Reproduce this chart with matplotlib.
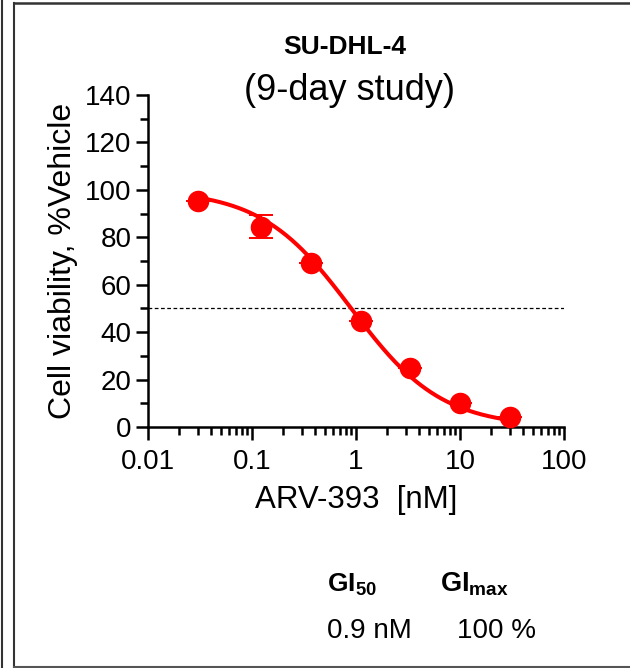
import numpy as np
import matplotlib
matplotlib.use('Agg')
import matplotlib.pyplot as plt
from matplotlib.lines import Line2D
from matplotlib.ticker import MultipleLocator, LogLocator, FixedLocator

plt.rcParams['font.family'] = ['Liberation Sans', 'DejaVu Sans']
plt.rcParams['mathtext.fontset'] = 'custom'
plt.rcParams['mathtext.rm'] = 'Liberation Sans'
plt.rcParams['mathtext.bf'] = 'Liberation Sans:bold'

# data
conc = [0.03, 0.123, 0.37, 1.11, 3.33, 10, 30]
viability = [95.5, 84.5, 69.0, 44.5, 25.0, 10.0, 4.3]
err = [0, 5.0, 0, 0, 0, 0, 0]

# 4-parameter logistic fit values
top, bottom, gi50, hill = 100.0, 0.0, 0.9, 1.0

x_ticks = [0.01, 0.1, 1, 10, 100]
x_labels = ['0.01', '0.1', '1', '10', '100']
y_ticks = [0, 20, 40, 60, 80, 100, 120, 140]

red = '#ff0000'

fig = plt.figure(figsize=(6.3, 6.68), dpi=100)
ax = fig.add_axes([148/630, 1-427/668, (564-148)/630, (427-95)/668])

xs = np.logspace(np.log10(conc[0]), np.log10(conc[-1]), 300)
fit = bottom + (top - bottom) / (1 + (xs / gi50) ** hill)
ax.plot(xs, fit, color=red, lw=2.9, zorder=3)
ax.errorbar(conc, viability, yerr=err, fmt='o', color=red, ms=14.5,
            elinewidth=1.4, capsize=8.5, capthick=1.4, zorder=4, clip_on=False)
ax.axhline(50, color='black', lw=0.9, ls=(0, (3, 2)), zorder=2)

ax.set_xscale('log')
ax.set_xlim(0.01, 100)
ax.set_ylim(0, 140)
ax.xaxis.set_major_locator(FixedLocator(x_ticks))
ax.set_xticklabels(x_labels)
ax.xaxis.set_minor_locator(LogLocator(base=10, subs=np.arange(2, 10)))
ax.xaxis.set_minor_formatter(plt.NullFormatter())
ax.set_yticks(y_ticks)
ax.yaxis.set_minor_locator(MultipleLocator(10))

for s in ['top', 'right']:
    ax.spines[s].set_visible(False)
for s in ['left', 'bottom']:
    ax.spines[s].set_linewidth(1.8)
ax.tick_params(which='major', length=9, width=1.8, labelsize=20, pad=3)
ax.tick_params(axis='x', which='major', pad=7)
ax.tick_params(which='minor', length=6, width=1.8)

ax.set_xlabel('ARV-393  [nM]', fontsize=22.5, labelpad=7)
ax.set_ylabel('Cell viability, %Vehicle', fontsize=23, labelpad=5)

fig.text(345/630, 1-47/668, 'SU-DHL-4', fontsize=19, fontweight='bold',
         ha='center', va='center')
fig.text(350/630, 1-91/668, '(9-day study)', fontsize=26,
         ha='center', va='center')

fig.text(327/630, 1-591/668, r'$\mathbf{GI}_{\mathbf{50}}$', fontsize=19,
         ha='left', va='baseline')
fig.text(440/630, 1-591/668, r'$\mathbf{GI}_{\mathbf{max}}$', fontsize=19.5,
         ha='left', va='baseline')
fig.text(327/630, 1-638/668, '0.9 nM', fontsize=20, ha='left', va='baseline')
fig.text(457/630, 1-638/668, '100 %', fontsize=20, ha='left', va='baseline')

# panel frame
fig.add_artist(Line2D([14/630, 14/630], [0.5/668, 1-3/668], color='#333333', lw=1.5))
fig.add_artist(Line2D([2/630, 2/630], [0, 1], color='#333333', lw=1.5))
fig.add_artist(Line2D([14/630, 1], [1-3/668, 1-3/668], color='#333333', lw=1.8))
fig.add_artist(Line2D([14/630, 1], [1.5/668, 1.5/668], color='#555555', lw=1.5))

fig.savefig('out.png', dpi=100)
